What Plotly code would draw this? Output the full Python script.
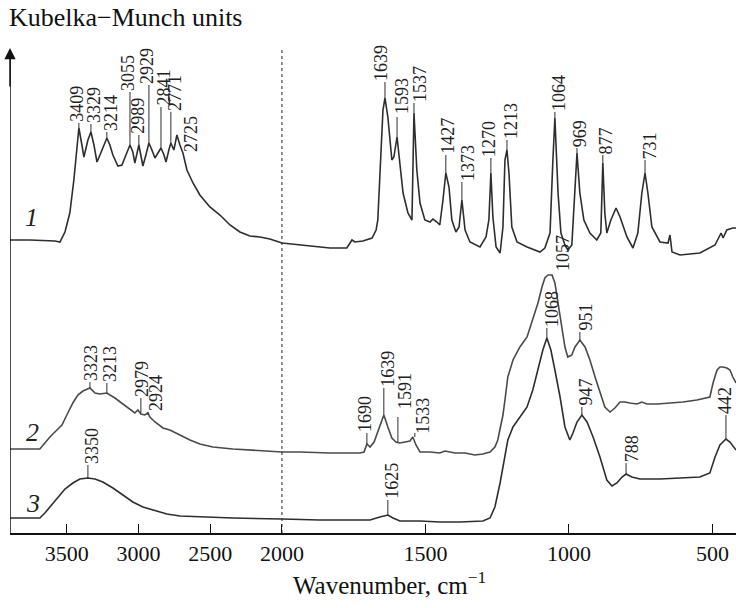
import plotly.graph_objects as go

# ---------------- data (wavenumber cm-1, Kubelka-Munch units) ----------------
s1_wn = [3895, 3756, 3582, 3547, 3512, 3478, 3450, 3429, 3415, 3394, 3380, 3352, 3331, 3310,
         3289, 3268, 3248, 3220, 3199, 3178, 3143, 3115, 3087, 3059, 3039, 3025, 2997, 2983,
         2969, 2948, 2927, 2906, 2885, 2864, 2843, 2822, 2808, 2788, 2774, 2753, 2732, 2711,
         2690, 2662, 2620, 2572, 2502, 2432, 2362, 2293, 2223, 2153, 2084, 2000,
         1937, 1833, 1774, 1756, 1746, 1718, 1686, 1672, 1666, 1655, 1648, 1641, 1631, 1617,
         1610, 1599, 1589, 1578, 1561, 1547, 1540, 1530, 1519, 1502, 1484, 1474, 1460, 1450,
         1439, 1429, 1418, 1408, 1394, 1383, 1373, 1362, 1345, 1310, 1289, 1279, 1272, 1265,
         1254, 1240, 1230, 1223, 1216, 1209, 1199, 1181, 1146, 1101, 1084, 1066, 1056, 1049,
         1038, 1028, 1014, 1004, 990, 979, 972, 962, 948, 927, 903, 889, 882, 875, 868, 854,
         836, 822, 798, 777, 760, 746, 735, 725, 711, 683, 655, 648, 641, 613, 544, 491, 470,
         463, 450, 429, 418]
s1_km = [293, 293, 292, 291, 301, 320, 353, 386, 405, 388, 376, 393, 401, 388,
         371, 378, 385, 395, 388, 378, 367, 368, 378, 388, 381, 370, 388, 378,
         367, 378, 390, 383, 375, 380, 385, 378, 371, 383, 390, 383, 398, 388,
         380, 363, 350, 338, 326, 318, 308, 301, 297, 296, 294, 290,
         288, 285, 285, 293, 291, 292, 295, 303, 313, 373, 423, 435, 416, 373,
         376, 396, 366, 340, 320, 313, 420, 363, 330, 313, 311, 314, 311, 308,
         333, 360, 346, 313, 301, 306, 333, 303, 291, 286, 296, 313, 360, 316,
         286, 280, 306, 373, 383, 360, 306, 291, 286, 281, 285, 300, 373, 415,
         340, 300, 288, 283, 288, 340, 380, 340, 313, 300, 293, 300, 370, 320, 300, 313,
         325, 316, 296, 285, 300, 340, 360, 340, 306, 291, 290, 298, 281, 278, 280, 288, 300,
         295, 303, 305, 305]

s2_wn = [3895, 3687, 3652, 3617, 3568, 3533, 3499, 3457, 3422, 3387, 3338, 3303, 3269, 3220,
         3164, 3094, 3025, 3004, 2983, 2955, 2934, 2920, 2885, 2829, 2781, 2711, 2641, 2572,
         2481, 2342, 2153, 2000,
         1937, 1833, 1728, 1714, 1704, 1693, 1679, 1659, 1645, 1631, 1617, 1603, 1589, 1571,
         1554, 1544, 1533, 1519, 1484, 1450, 1432, 1397, 1362, 1328, 1300, 1275, 1258, 1248,
         1237, 1230, 1223, 1213, 1195, 1171, 1146, 1126, 1108, 1094, 1084, 1073, 1059, 1049,
         1038, 1024, 1014, 1004, 990, 979, 962, 944, 927, 909, 892, 875, 857, 840, 822, 805,
         788, 763, 746, 728, 693, 648, 603, 554, 509, 498, 484, 474, 464, 450, 439, 429, 418]
s2_km = [84, 84, 90, 96, 103, 108, 118, 130, 138, 142, 145, 140, 139, 140,
         135, 127, 120, 123, 119, 118, 120, 116, 111, 105, 103, 98, 93, 89,
         86, 84, 82, 81,
         81, 80, 80, 81, 89, 86, 91, 106, 118, 106, 95, 91, 90, 91,
         92, 96, 88, 81, 81, 80, 82, 80, 80, 78, 79, 81, 86, 93,
         108, 118, 133, 156, 173, 186, 196, 213, 230, 246, 255, 258, 258, 250,
         230, 206, 186, 176, 178, 186, 193, 186, 173, 156, 140, 126, 121, 125, 131, 131,
         130, 129, 131, 129, 129, 130, 131, 133, 136, 150, 163, 166, 166, 165, 163, 156, 150]

s3_wn = [3895, 3687, 3652, 3617, 3568, 3512, 3457, 3408, 3352, 3303, 3248, 3178, 3108, 3039,
         2969, 2899, 2802, 2711, 2572, 2342, 2000,
         1868, 1728, 1693, 1659, 1631, 1613, 1589, 1519, 1450, 1380, 1300, 1275, 1258, 1240,
         1230, 1223, 1213, 1195, 1171, 1146, 1126, 1108, 1091, 1077, 1063, 1049, 1031, 1014,
         997, 986, 972, 955, 937, 916, 892, 868, 850, 833, 815, 801, 781, 753, 683, 613, 544,
         509, 491, 474, 453, 439, 425, 418]
s3_km = [15, 15, 20, 26, 35, 44, 50, 54, 55, 54, 51, 45, 38, 31,
         26, 23, 19, 17, 16, 15, 14,
         13, 13, 13, 16, 18, 15, 12, 12, 11, 11, 12, 15, 26, 50,
         66, 76, 93, 106, 116, 126, 143, 163, 183, 195, 183, 163, 136, 106,
         93, 100, 111, 118, 111, 96, 76, 53, 47, 50, 56, 59, 56, 54, 54, 55, 56,
         60, 76, 88, 94, 91, 86, 83]

# peak labels: (text, leader wavenumber, tip KM, leader top KM, text wavenumber, text bottom KM)
labels1 = [("3409", 3415, 405, 410, 3429, 410), ("3329", 3331, 401, 409, 3310, 409),
           ("3214", 3220, 395, 401, 3192, 401), ("3055", 3059, 388, 441, 3073, 441),
           ("2989", 2997, 388, 398, 3004, 398), ("2929", 2927, 390, 448, 2941, 448),
           ("2841", 2843, 385, 426, 2825, 426), ("2771", 2774, 390, 421, 2746, 421),
           ("2725", 2634, 380, 380, 2634, 380),
           ("1639", 1641, 435, 451, 1655, 451), ("1593", 1599, 396, 416, 1582, 418),
           ("1537", 1540, 420, 430, 1519, 430), ("1427", 1429, 360, 378, 1422, 378),
           ("1373", 1373, 333, 351, 1352, 351), ("1270", 1272, 360, 375, 1279, 375),
           ("1213", 1216, 383, 393, 1202, 393), ("1064", 1049, 415, 421, 1035, 421),
           ("969", 972, 380, 385, 962, 385), ("877", 882, 370, 378, 871, 378),
           ("731", 735, 360, 373, 718, 373)]
labels2 = [("3323", 3338, 145, 151, 3331, 151), ("3213", 3220, 140, 150, 3199, 150),
           ("2979", 2983, 120, 135, 2976, 135), ("2924", 2934, 118, 121, 2878, 121),
           ("1690", 1704, 89, 100, 1711, 100), ("1639", 1645, 118, 145, 1631, 145),
           ("1591", 1596, 91, 116, 1571, 123), ("1533", 1537, 96, 100, 1509, 98),
           ("1057", 1059, 258, 258, 1021, 261), ("951", 962, 193, 201, 944, 201)]
labels3 = [("3350", 3352, 55, 68, 3324, 68), ("1625", 1631, 18, 33, 1617, 33),
           ("1068", 1077, 195, 205, 1059, 205), ("947", 955, 118, 126, 944, 126),
           ("788", 801, 59, 70, 781, 70), ("442", 453, 94, 118, 458, 118)]

curve_names = ["1", "2", "3"]
curve_name_wn = [3742, 3735, 3735]
curve_name_km = [316, 101, 30]

tick_wn = [3500, 3000, 2500, 2000, 1500, 1000, 500]
wn_left, wn_right, wn_break = 3895, 418, 2000
km_max = 485

# ---------------- broken axis mapping: left part compressed 2x ----------------
def u(w):
    return (wn_break - w) if w <= wn_break else (wn_break - w) / 2.0

def us(ws):
    return [u(w) for w in ws]

FONT = "Liberation Serif, Times New Roman, serif"
fig = go.Figure()

line_colors = ["#2e2e2e", "#4a4a4a", "#2e2e2e"]
for wn, km, col in [(s1_wn, s1_km, line_colors[0]), (s2_wn, s2_km, line_colors[1]),
                    (s3_wn, s3_km, line_colors[2])]:
    fig.add_trace(go.Scatter(x=us(wn), y=km, mode="lines",
                             line=dict(color=col, width=1.6), hoverinfo="skip",
                             showlegend=False))

# leader lines
lx, ly = [], []
for lab in labels1 + labels2 + labels3:
    t, wl, tip, top, wt, yt = lab
    if top != tip:
        lx += [u(wl), u(wl), None]
        ly += [tip, top, None]
fig.add_trace(go.Scatter(x=lx, y=ly, mode="lines", line=dict(color="#2e2e2e", width=1),
                         hoverinfo="skip", showlegend=False))

annotations = []
for lab in labels1 + labels2 + labels3:
    t, wl, tip, top, wt, yt = lab
    annotations.append(dict(x=u(wt), y=yt, xref="x", yref="y", text=t, showarrow=False,
                            textangle=-90, xanchor="center", yanchor="bottom",
                            font=dict(family=FONT, size=18, color="#222"), borderpad=0))

for name, w, k in zip(curve_names, curve_name_wn, curve_name_km):
    annotations.append(dict(x=u(w), y=k, xref="x", yref="y", text="<i>" + name + "</i>",
                            showarrow=False, font=dict(family=FONT, size=26, color="#222")))

# y axis arrow
annotations.append(dict(x=u(wn_left), y=km_max, ax=u(wn_left), ay=km_max - 40,
                        xref="x", yref="y", axref="x", ayref="y", text="",
                        showarrow=True, arrowhead=2, arrowsize=1.5, arrowwidth=1.5,
                        arrowcolor="#111"))
annotations.append(dict(x=0, y=1.062, xref="paper", yref="paper", xshift=-3,
                        text="Kubelka\u2212Munch units", showarrow=False, xanchor="left",
                        yanchor="middle", font=dict(family=FONT, size=26, color="#111")))
annotations.append(dict(x=0.523, y=-0.103, xref="paper", yref="paper",
                        text="Wavenumber, cm<sup>\u22121</sup>", showarrow=False,
                        xanchor="center", yanchor="middle",
                        font=dict(family=FONT, size=25, color="#111")))

shapes = [dict(type="line", xref="x", yref="y", x0=u(wn_break), x1=u(wn_break), y0=0,
               y1=km_max, line=dict(color="#222", width=1, dash="dot")),
          dict(type="line", xref="x", yref="y", x0=u(wn_left), x1=u(wn_left), y0=0,
               y1=km_max - 4, line=dict(color="#111", width=1.5))]

fig.update_layout(
    width=736, height=608,
    margin=dict(l=10, r=0, t=48, b=75),
    paper_bgcolor="white", plot_bgcolor="white",
    annotations=annotations, shapes=shapes,
    xaxis=dict(range=[u(wn_left), u(wn_right)], tickvals=us(tick_wn),
               ticktext=[str(t) for t in tick_wn], ticks="inside", ticklen=9,
               tickwidth=1.2, tickcolor="#111", showline=True, linecolor="#111",
               linewidth=1.5, showgrid=False, zeroline=False,
               tickfont=dict(family=FONT, size=22, color="#111")),
    yaxis=dict(range=[0, km_max], showticklabels=False, ticks="", showline=False,
               showgrid=False, zeroline=False),
)

fig.write_html("out.html", config={"displayModeBar": False},
               post_script="document.body.style.margin='0';document.body.style.padding='0';")
